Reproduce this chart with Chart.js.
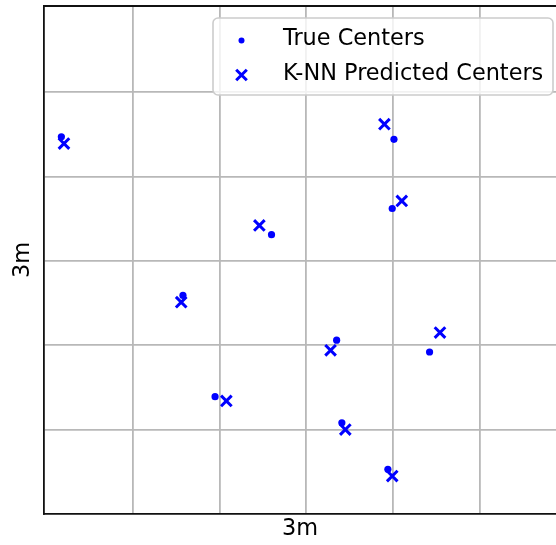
<!DOCTYPE html>
<html>
<head>
<meta charset="utf-8">
<script src="https://cdn.jsdelivr.net/npm/chart.js@4/dist/chart.umd.min.js"></script>
<style>
  html, body { margin: 0; padding: 0; background: #fff; overflow: hidden; }
  canvas { display: block; }
</style>
</head>
<body>
<canvas id="c" width="556" height="545"></canvas>
<script>
// Cluster centers, in grid units (one grid cell = 1 unit)
const trueX = [0.18, 4.01, 3.99, 2.60, 1.58, 3.35, 4.42, 1.95, 3.41, 3.94];
const trueY = [4.47, 4.44, 3.62, 3.31, 2.59, 2.06, 1.92, 1.39, 1.08, 0.53];
const predX = [0.21, 3.90, 4.10, 2.46, 1.56, 3.28, 4.54, 2.08, 3.45, 3.99];
const predY = [4.39, 4.62, 3.71, 3.42, 2.51, 1.94, 2.15, 1.34, 1.00, 0.45];

const seriesLabels = ['True Centers', 'K-NN Predicted Centers'];
const gridX = [1, 2, 3, 4, 5];
const gridY = [1, 2, 3, 4, 5];
const axisTitle = '3m';

const BLUE = '#0000ff';
const FONT = 'DejaVu Sans';
const FONT_SIZE = 22.4;

const toPoints = (xs, ys) => xs.map((x, i) => ({ x, y: ys[i] }));

// Top spine: the linear scales only draw the left and bottom borders
const topSpine = {
  id: 'topSpine',
  afterDraw(chart) {
    const { ctx, chartArea: a } = chart;
    ctx.save();
    ctx.strokeStyle = '#111';
    ctx.lineWidth = 1.8;
    ctx.beginPath();
    ctx.moveTo(a.left, a.top);
    ctx.lineTo(a.right + 2, a.top);
    ctx.stroke();
    ctx.restore();
  }
};

// Framed legend in the upper right corner of the plot area
const boxedLegend = {
  id: 'boxedLegend',
  afterDraw(chart) {
    const { ctx, chartArea: a } = chart;
    const w = 340, h = 77, r = 5;
    const x0 = a.right - 3 - w, y0 = a.top + 12;
    ctx.save();
    ctx.beginPath();
    ctx.moveTo(x0 + r, y0);
    ctx.arcTo(x0 + w, y0, x0 + w, y0 + h, r);
    ctx.arcTo(x0 + w, y0 + h, x0, y0 + h, r);
    ctx.arcTo(x0, y0 + h, x0, y0, r);
    ctx.arcTo(x0, y0, x0 + w, y0, r);
    ctx.closePath();
    ctx.fillStyle = 'rgba(255,255,255,0.8)';
    ctx.fill();
    ctx.strokeStyle = '#cccccc';
    ctx.lineWidth = 1.6;
    ctx.stroke();

    const rowH = 34.5;
    chart.data.datasets.forEach((ds, i) => {
      const my = y0 + 22.5 + i * rowH;
      const mx = x0 + 28.5;
      ctx.fillStyle = ds.backgroundColor;
      ctx.strokeStyle = ds.borderColor;
      const opts = {
        pointStyle: ds.pointStyle,
        radius: ds.pointStyle === 'circle' ? 3 : ds.pointRadius,
        borderWidth: ds.borderWidth,
        rotation: 0
      };
      ctx.lineWidth = ds.borderWidth;
      Chart.helpers.drawPoint(ctx, opts, mx, my);
      ctx.fillStyle = '#000';
      ctx.font = FONT_SIZE + 'px "' + FONT + '"';
      ctx.textBaseline = 'alphabetic';
      ctx.textAlign = 'left';
      ctx.fillText(ds.label, x0 + 70, y0 + 27 + i * rowH);
    });
    ctx.restore();
  }
};

new Chart(document.getElementById('c'), {
  type: 'scatter',
  data: {
    datasets: [
      {
        label: seriesLabels[0],
        data: toPoints(trueX, trueY),
        pointStyle: 'circle',
        pointRadius: 3.6,
        backgroundColor: BLUE,
        borderColor: BLUE,
        borderWidth: 0
      },
      {
        label: seriesLabels[1],
        data: toPoints(predX, predY),
        pointStyle: 'crossRot',
        pointRadius: 7.5,
        backgroundColor: BLUE,
        borderColor: BLUE,
        borderWidth: 3
      }
    ]
  },
  options: {
    responsive: false,
    animation: false,
    devicePixelRatio: 1,
    events: [],
    layout: { autoPadding: false, padding: { top: 6, right: 0, left: 0, bottom: 0 } },
    plugins: {
      legend: { display: false },
      tooltip: { enabled: false }
    },
    scales: {
      x: {
        type: 'linear',
        min: -0.02,
        max: 5.876,
        afterBuildTicks: s => { s.ticks = gridX.map(v => ({ value: v })); },
        afterFit: s => { s.height = 31; },
        ticks: { display: false },
        grid: { color: '#b8b8b8', lineWidth: 1.8, drawTicks: false },
        border: { color: '#111', width: 1.8 },
        title: {
          display: true,
          text: axisTitle,
          color: '#000',
          font: { family: FONT, size: FONT_SIZE },
          padding: { top: 0, bottom: 2 }
        }
      },
      y: {
        type: 'linear',
        min: 0,
        max: 6.02,
        afterBuildTicks: s => { s.ticks = gridY.map(v => ({ value: v })); },
        afterFit: s => { s.width = 44; },
        ticks: { display: false },
        grid: { color: '#b8b8b8', lineWidth: 1.8, drawTicks: false },
        border: { color: '#111', width: 1.8 },
        title: {
          display: true,
          text: axisTitle,
          color: '#000',
          font: { family: FONT, size: FONT_SIZE },
          padding: { top: 10, bottom: 0 }
        }
      }
    }
  },
  plugins: [topSpine, boxedLegend]
});
</script>
</body>
</html>
